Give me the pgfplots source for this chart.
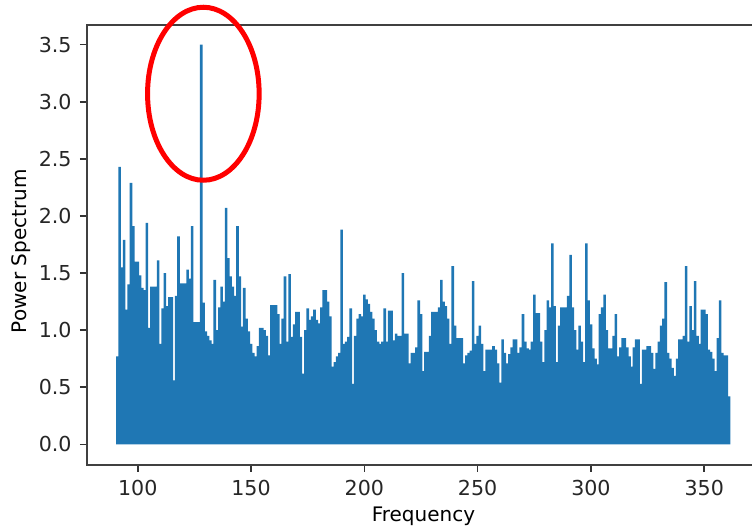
\documentclass[border=0pt]{standalone}
\usepackage{fontspec}
\setmainfont{DejaVu Sans}
\usepackage{pgfplots}
\pgfplotsset{compat=1.18}
\definecolor{mplblue}{RGB}{31,119,180}
\begin{document}
\begin{tikzpicture}
\begin{axis}[
  scale only axis, width=336.5pt, height=220pt,
  xmin=77.6, xmax=374.6, ymin=-0.181, ymax=3.672,
  xtick={100,150,200,250,300,350}, xticklabels={100,150,200,250,300,350},
  ytick={0,0.5,1,1.5,2,2.5,3,3.5},
  yticklabels={0.0,0.5,1.0,1.5,2.0,2.5,3.0,3.5},
  tick pos=left, tick align=outside, major tick length=3.5pt,
  tick style={black!80, line width=0.8pt},
  axis line style={black!75, line width=0.9pt},
  tick label style={font=\fontsize{10.3}{12}\selectfont, text=black!85},
  xticklabel style={yshift=-0.6pt},
  yticklabel style={xshift=-0.7pt},
  label style={font=\fontsize{10.3}{12}\selectfont, text=black!85},
  xlabel={Frequency}, ylabel={Power Spectrum},
  every axis x label/.style={at={(axis description cs:0.5,-0.1295)}, anchor=base},
  every axis y label/.style={at={(axis description cs:-0.0892,0.486)}, anchor=base, rotate=90},
  /pgf/number format/assume math mode=true,
]
% power spectrum, envelope read per unit of frequency
\addplot[ybar, bar width=1.3pt, fill=mplblue, draw=none] coordinates {
(91,0.77)(92,2.43)(93,1.55)(94,1.79)(95,1.18)(96,1.40)(97,2.29)(98,1.91)(99,1.60)(100,1.60)
(101,1.48)(102,1.37)(103,1.35)(104,1.94)(105,1.02)(106,1.38)(107,1.38)(108,1.38)(109,1.61)(110,0.88)
(111,1.19)(112,1.50)(113,1.21)(114,1.29)(115,1.29)(116,0.56)(117,1.30)(118,1.82)(119,1.41)(120,1.41)
(121,1.41)(122,1.53)(123,1.45)(124,1.91)(125,1.07)(126,1.07)(127,1.07)(128,3.50)(129,1.24)(130,0.99)
(131,0.95)(132,0.91)(133,0.88)(134,1.44)(135,1.00)(136,1.20)(137,1.38)(138,1.25)(139,2.07)(140,1.63)
(141,1.47)(142,1.38)(143,1.30)(144,1.91)(145,1.47)(146,1.03)(147,1.37)(148,1.10)(149,0.99)(150,0.88)
(151,0.80)(152,0.77)(153,0.86)(154,1.02)(155,1.02)(156,1.00)(157,0.95)(158,0.78)(159,1.22)(160,1.22)
(161,1.22)(162,1.14)(163,0.88)(164,1.10)(165,1.47)(166,0.90)(167,1.49)(168,0.94)(169,1.05)(170,1.16)
(171,1.16)(172,0.94)(173,0.62)(174,1.00)(175,1.19)(176,1.09)(177,1.12)(178,1.18)(179,1.09)(180,1.06)
(181,1.20)(182,1.35)(183,1.35)(184,1.25)(185,1.12)(186,0.68)(187,0.72)(188,0.77)(189,0.80)(190,1.88)
(191,0.88)(192,0.90)(193,0.94)(194,1.19)(195,0.53)(196,0.95)(197,1.10)(198,1.14)(199,1.12)(200,1.31)
(201,1.27)(202,1.23)(203,1.16)(204,1.10)(205,1.00)(206,0.90)(207,0.88)(208,0.90)(209,1.19)(210,0.90)
(211,1.17)(212,1.17)(213,0.91)(214,0.97)(215,0.95)(216,0.95)(217,1.50)(218,0.97)(219,0.97)(220,0.71)
(221,0.80)(222,0.80)(223,0.85)(224,1.26)(225,1.14)(226,0.64)(227,0.81)(228,0.81)(229,0.95)(230,1.16)
(231,1.16)(232,1.16)(233,1.20)(234,1.44)(235,1.25)(236,1.21)(237,1.10)(238,0.88)(239,1.56)(240,1.04)
(241,0.93)(242,0.93)(243,0.93)(244,0.71)(245,0.78)(246,0.80)(247,0.82)(248,1.43)(249,0.88)(250,0.95)
(251,1.04)(252,0.88)(253,0.64)(254,0.83)(255,0.83)(256,0.83)(257,0.86)(258,0.83)(259,0.71)(260,0.54)
(261,0.92)(262,0.80)(263,0.71)(264,0.79)(265,0.85)(266,0.92)(267,0.92)(268,0.80)(269,0.85)(270,1.14)
(271,0.90)(272,0.84)(273,0.83)(274,0.90)(275,1.31)(276,1.15)(277,1.15)(278,0.90)(279,0.72)(280,1.00)
(281,1.26)(282,1.20)(283,1.76)(284,1.21)(285,0.72)(286,1.04)(287,1.20)(288,1.20)(289,1.20)(290,1.30)
(291,1.66)(292,1.20)(293,1.00)(294,0.83)(295,1.04)(296,0.90)(297,0.72)(298,1.76)(299,1.26)(300,1.05)
(301,0.84)(302,0.75)(303,0.70)(304,1.14)(305,1.20)(306,1.31)(307,1.00)(308,0.84)(309,0.84)(310,0.95)
(311,1.14)(312,0.77)(313,0.85)(314,0.93)(315,0.93)(316,0.85)(317,0.77)(318,0.68)(319,0.85)(320,0.92)
(321,0.92)(322,0.53)(323,0.83)(324,0.83)(325,0.86)(326,0.86)(327,0.80)(328,0.66)(329,0.80)(330,0.90)
(331,1.04)(332,1.10)(333,1.42)(334,0.80)(335,0.75)(336,0.67)(337,0.60)(338,0.75)(339,0.92)(340,0.92)
(341,0.95)(342,1.56)(343,0.90)(344,1.21)(345,1.00)(346,1.43)(347,0.95)(348,0.88)(349,1.18)(350,1.18)
(351,1.14)(352,0.83)(353,0.81)(354,0.75)(355,0.64)(356,0.93)(357,1.26)(358,0.80)(359,0.78)(360,0.78)
(361,0.42)};
\coordinate (ell) at (axis cs:128.95,3.07);
\end{axis}
\draw[red, line width=2.5pt] (ell) ellipse [x radius=27.9pt, y radius=43.25pt];
\pgfresetboundingbox
\path[use as bounding box] ([xshift=-43.5pt,yshift=-33pt]current axis.south west)
  rectangle ([xshift=332.5pt,yshift=12.5pt]current axis.north west);
\end{tikzpicture}
\end{document}
